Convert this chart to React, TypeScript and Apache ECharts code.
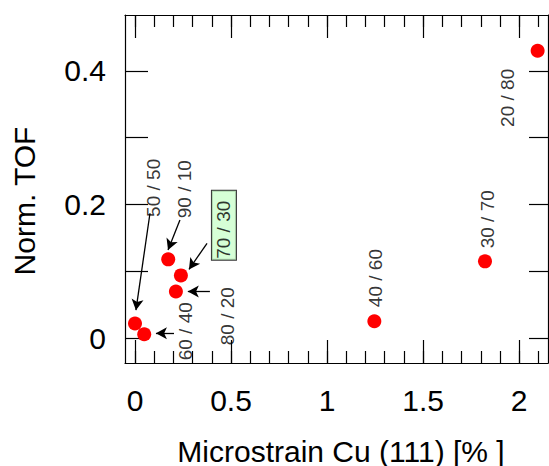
import React, { useEffect, useRef } from "react";
import * as echarts from "echarts";

// Data: microstrain (x) vs normalized TOF (y), with composition labels
const compositions = ["20 / 80", "30 / 70", "40 / 60", "50 / 50", "60 / 40", "80 / 20", "70 / 30", "90 / 10"];
const strainValues = [2.096, 1.822, 1.246, 0.0, 0.048, 0.213, 0.239, 0.173];
const tofValues = [0.43, 0.115, 0.0255, 0.022, 0.006, 0.070, 0.094, 0.118];

// Label anchor positions (data coordinates)
const labelX = [1.939, 1.835, 1.252, 0.094, 0.265, 0.479, 0.463, 0.260];
const labelY = [0.3596, 0.178, 0.090, 0.225, 0.0105, 0.033, 0.169, 0.223];

// Arrows (data coordinates): start -> tip
const arrowFrom = [[0.078, 0.187], [0.234, 0.177], [0.375, 0.142], [0.39, 0.070], [0.203, 0.0075]];
const arrowTo = [[0.005, 0.042], [0.172, 0.132], [0.281, 0.103], [0.275, 0.070], [0.109, 0.0075]];

// Ticks
const xMajorTicks = [0, 0.5, 1, 1.5, 2];
const xMinorTicks = [0, 0.1, 0.2, 0.3, 0.4, 0.5, 0.6, 0.7, 0.8, 0.9, 1, 1.1, 1.2, 1.3, 1.4, 1.5, 1.6, 1.7, 1.8, 1.9, 2, 2.1];
const yTicks = [0, 0.1, 0.2, 0.3, 0.4];
const yLabels = [0, 0.2, 0.4];

const FONT = "'Liberation Sans', Arial, sans-serif";

export default function App() {
  const ref = useRef<HTMLDivElement>(null);
  useEffect(() => {
    if (!ref.current) return;
    const chart = echarts.init(ref.current, null, { renderer: "svg" });
    const xMin = -0.052, xMax = 2.15, yMin = -0.037, yMax = 0.4835;
    const line = { lineStyle: { color: "#000", width: 1.2 } };
    const baseX = (position: string, vals: number[], len: number, labels: boolean, showLine: boolean) => ({
      type: "value",
      position,
      min: xMin,
      max: xMax,
      axisLine: { show: showLine, onZero: false, ...line },
      axisTick: { show: true, inside: true, length: len, customValues: vals, ...line },
      axisLabel: labels
        ? { show: true, customValues: xMajorTicks, fontSize: 30, color: "#000", fontFamily: FONT, margin: 22, formatter: (v: number) => String(v) }
        : { show: false },
      splitLine: { show: false },
    });
    const labelData = compositions.map((c, i) => {
      const d: any = { value: [labelX[i], labelY[i]], name: c };
      if (c === "70 / 30") {
        d.label = {
          backgroundColor: "#ccffcc",
          borderColor: "#000",
          borderWidth: 1,
          padding: [3, 10, 1, 1],
        };
      }
      return d;
    });
    chart.setOption({
      animation: false,
      grid: { left: 125, top: 15, right: 1, bottom: 103, containLabel: false },
      xAxis: [
        baseX("bottom", xMinorTicks, 12, true, true),
        baseX("bottom", xMajorTicks, 23, false, false),
        baseX("top", xMinorTicks, 12, false, true),
        baseX("top", xMajorTicks, 23, false, false),
      ],
      yAxis: [
        {
          type: "value",
          position: "left",
          min: yMin,
          max: yMax,
          axisLine: { show: true, onZero: false, ...line },
          axisTick: { show: true, inside: true, length: 23, customValues: yTicks, ...line },
          axisLabel: {
            show: true,
            customValues: yLabels,
            fontSize: 30,
            color: "#000",
            fontFamily: FONT,
            margin: 19,
            padding: [14, 0, 0, 0],
            formatter: (v: number) => String(v),
          },
          splitLine: { show: false },
        },
        {
          type: "value",
          position: "right",
          min: yMin,
          max: yMax,
          axisLine: { show: true, onZero: false, ...line },
          axisTick: { show: true, inside: true, length: 19, customValues: yTicks, ...line },
          axisLabel: { show: false },
          splitLine: { show: false },
        },
      ],
      graphic: [
        {
          type: "text",
          x: 24,
          y: 201,
          rotation: Math.PI / 2,
          style: { text: "Norm. TOF", fontSize: 30, fontFamily: FONT, fill: "#000", align: "center", verticalAlign: "middle" },
        },
        {
          type: "text",
          x: 341,
          y: 451,
          style: { text: "Microstrain Cu (111) [% ]", fontSize: 30, fontFamily: FONT, fill: "#000", align: "center", verticalAlign: "middle" },
        },
      ],
      series: [
        {
          type: "scatter",
          name: "points",
          xAxisIndex: 0,
          yAxisIndex: 0,
          symbol: "circle",
          symbolSize: 14,
          itemStyle: { color: "#ff0000", opacity: 1 },
          data: strainValues.map((x, i) => [x, tofValues[i]]),
          markLine: {
            silent: true,
            symbol: ["none", "arrow"],
            symbolSize: [9, 11],
            label: { show: false },
            lineStyle: { color: "#000", width: 1.3, type: "solid" },
            data: arrowFrom.map((f, i) => [{ coord: f }, { coord: arrowTo[i] }]),
          },
        },
        {
          type: "scatter",
          name: "labels",
          xAxisIndex: 0,
          yAxisIndex: 0,
          symbolSize: 1,
          itemStyle: { color: "rgba(0,0,0,0)" },
          silent: true,
          label: {
            show: true,
            position: "inside",
            rotate: 90,
            fontSize: 19,
            fontFamily: FONT,
            color: "#000",
            lineHeight: 20,
            formatter: (p: any) => p.name,
          },
          data: labelData,
        },
      ],
    });
    return () => chart.dispose();
  }, []);
  return <div ref={ref} style={{ width: 549, height: 466, position: "absolute", left: 0, top: 0 }} />;
}
